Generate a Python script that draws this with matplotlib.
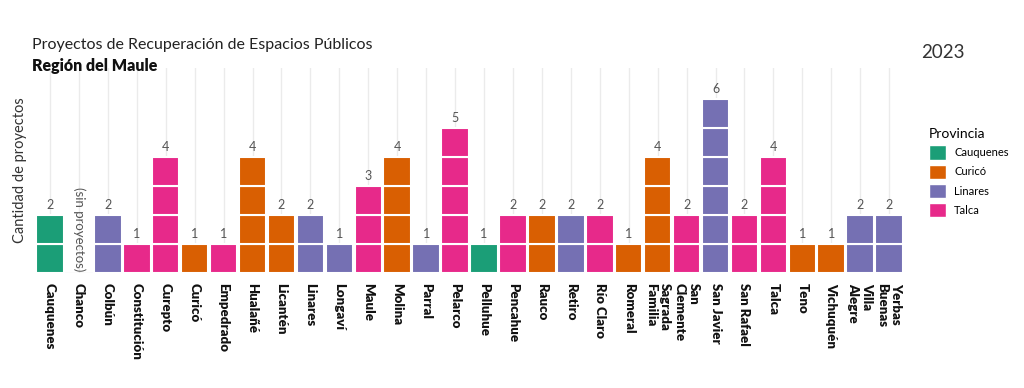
import matplotlib.pyplot as plt
from matplotlib.patches import Patch

plt.rcParams['font.family'] = ['Lato', 'DejaVu Sans']

# Datos: proyectos por comuna (Región del Maule, 2023)
comunas = ["Cauquenes", "Chanco", "Colbún", "Constitución", "Curepto", "Curicó",
           "Empedrado", "Hualañé", "Licantén", "Linares", "Longaví", "Maule",
           "Molina", "Parral", "Pelarco", "Pelluhue", "Pencahue", "Rauco",
           "Retiro", "Río Claro", "Romeral", "Sagrada\nFamilia", "San\nClemente",
           "San Javier", "San Rafael", "Talca", "Teno", "Vichuquén",
           "Villa\nAlegre", "Yerbas\nBuenas"]
proyectos = [2, 0, 2, 1, 4, 1, 1, 4, 2, 2, 1, 3, 4, 1, 5, 1, 2, 2, 2, 2, 1, 4,
             2, 6, 2, 4, 1, 1, 2, 2]
provincia = ["Cauquenes", "Cauquenes", "Linares", "Talca", "Talca", "Curicó",
             "Talca", "Curicó", "Curicó", "Linares", "Linares", "Talca",
             "Curicó", "Linares", "Talca", "Cauquenes", "Talca", "Curicó",
             "Linares", "Talca", "Curicó", "Curicó", "Talca", "Linares",
             "Talca", "Talca", "Curicó", "Curicó", "Linares", "Linares"]
provincias = ["Cauquenes", "Curicó", "Linares", "Talca"]
colores = {"Cauquenes": "#1B9E77", "Curicó": "#D95F02",
           "Linares": "#7570B3", "Talca": "#E7298A"}

fig = plt.figure(figsize=(10.24, 3.88), dpi=100)
ax = fig.add_axes([0.0347, 0.2964, 0.8477, 0.5283])

x = list(range(len(comunas)))

# grilla vertical y línea base
for xi in x:
    ax.axvline(xi, color="#ebebeb", lw=1, zorder=0)
ax.axhline(0, color="#ebebeb", lw=1, zorder=0)

# un cuadrado por proyecto
for xi, n, prov in zip(x, proyectos, provincia):
    for k in range(n):
        ax.bar(xi, 1, bottom=k, width=0.95, color=colores[prov],
               edgecolor="white", linewidth=1.5, zorder=2)
    if n > 0:
        ax.text(xi, n + 0.35, str(n), ha="center", va="center",
                fontsize=9, color="#555555")
    else:
        ax.text(xi, 0.05, "(sin proyectos)", rotation=270, ha="center",
                va="bottom", fontsize=9.5, color="#555555")

ax.set_xlim(-0.5, len(comunas) - 0.5)
ax.set_ylim(0, 7.07)
ax.set_xticks(x)
ax.set_xticklabels(comunas, rotation=270, ha="center", va="top",
                   multialignment="left", fontsize=9.5, fontweight="heavy",
                   color="#111111")
ax.tick_params(axis="x", length=0, pad=7)
ax.set_yticks([])
for s in ax.spines.values():
    s.set_visible(False)
ax.set_ylabel("Cantidad de proyectos", fontsize=10.5, color="#333333", labelpad=6)

fig.text(0.031, 0.885, "Proyectos de Recuperación de Espacios Públicos",
         fontsize=11.5, color="#222222", va="center")
fig.text(0.031, 0.83, "Región del Maule", fontsize=11.5, fontweight="heavy",
         color="#111111", va="center")
fig.text(0.9, 0.865, "2023", fontsize=13.5, color="#333333", va="center")

handles = [Patch(facecolor=colores[p], edgecolor="white", label=p) for p in provincias]
leg = fig.legend(handles=handles, title="Provincia", loc="upper left",
                 bbox_to_anchor=(0.897, 0.695), frameon=False, fontsize=8,
                 title_fontsize=10, handlelength=1.6, handleheight=1.6,
                 labelspacing=0.45, handletextpad=0.7)
leg._legend_box.align = "left"

fig.savefig("out.png", dpi=100, facecolor="white")
